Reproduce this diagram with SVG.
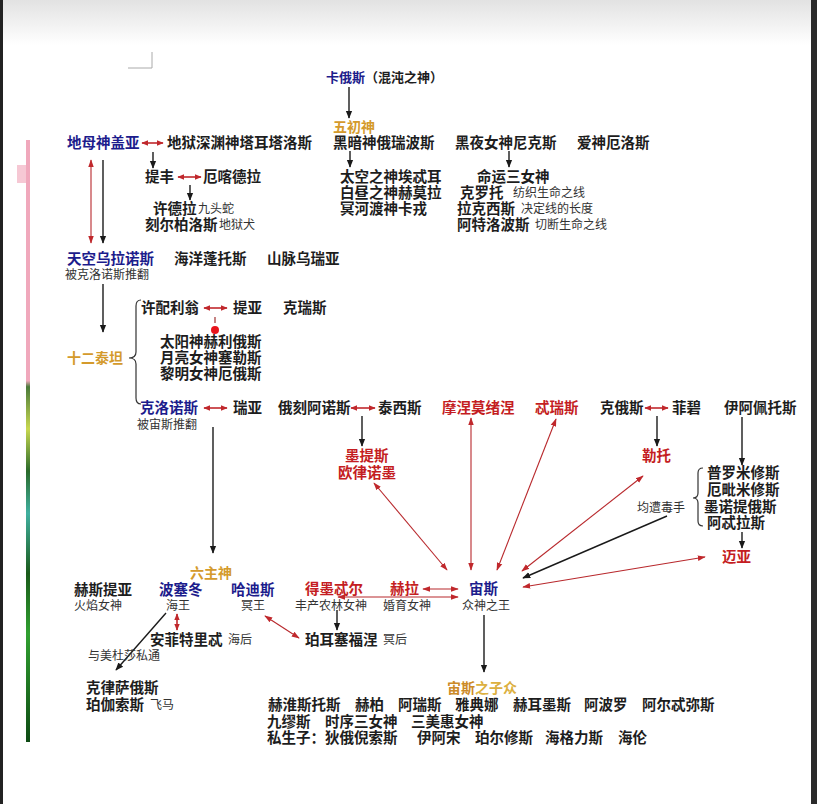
<svg xmlns="http://www.w3.org/2000/svg" width="817" height="804" viewBox="0 0 817 804">
<defs>
<style>
.t{font-family:"Noto Sans CJK SC","Noto Sans CJK JP",sans-serif;font-size:14.5px;font-weight:700;fill:#1d1d1d}
.b{fill:#1c1c8c}
.r{fill:#c41d22}
.g{fill:#d49a2c}
.s{font-family:"Noto Sans CJK SC","Noto Sans CJK JP",sans-serif;font-size:12px;font-weight:400;fill:#333}
.k{stroke:#1a1a1a;stroke-width:1.4;fill:none}
.kr{stroke:#1a1a1a;stroke-width:1.4;fill:none;marker-end:url(#ak)}
.rr{stroke:#b8282c;stroke-width:1.1;fill:none;marker-start:url(#ar);marker-end:url(#ar)}
.rb{stroke:#c0282c;stroke-width:1.6;fill:none;marker-start:url(#ar2);marker-end:url(#ar2)}
.br{stroke:#333;stroke-width:1.2;fill:none}
</style>
<marker id="ak" viewBox="0 0 10 10" refX="9" refY="5" markerWidth="8" markerHeight="8" markerUnits="userSpaceOnUse" orient="auto-start-reverse"><path d="M0,1 L10,5 L0,9 z" fill="#1a1a1a"/></marker>
<marker id="ar" viewBox="0 0 10 10" refX="9" refY="5" markerWidth="8" markerHeight="8" markerUnits="userSpaceOnUse" orient="auto-start-reverse"><path d="M0,1.5 L10,5 L0,8.5 z" fill="#c0282c"/></marker>
<marker id="ar2" viewBox="0 0 10 10" refX="9" refY="5" markerWidth="7" markerHeight="7" markerUnits="userSpaceOnUse" orient="auto-start-reverse"><path d="M0,1 L10,5 L0,9 z" fill="#c0282c"/></marker>
<linearGradient id="top" x1="0" y1="0" x2="0" y2="1"><stop offset="0" stop-color="#e2e2e2"/><stop offset="1" stop-color="#ffffff"/></linearGradient>
<linearGradient id="rule" x1="0" y1="0" x2="1" y2="0"><stop offset="0" stop-color="#eeeeee"/><stop offset="0.5" stop-color="#e4e0b0"/><stop offset="1" stop-color="#f2f0a0"/></linearGradient>
<linearGradient id="strip" x1="0" y1="0" x2="0" y2="1"><stop offset="0" stop-color="#f0a8bc"/><stop offset="0.4" stop-color="#f0a8bc"/><stop offset="0.41" stop-color="#4a7a3a"/><stop offset="0.48" stop-color="#c8d850"/><stop offset="0.55" stop-color="#2a6a2a"/><stop offset="0.62" stop-color="#40b0a0"/><stop offset="0.72" stop-color="#1a5a1a"/><stop offset="0.82" stop-color="#30a030"/><stop offset="1" stop-color="#0e4a14"/></linearGradient>
</defs>
<rect width="817" height="804" fill="#ffffff"/>
<rect width="817" height="45" fill="url(#top)"/>
<rect x="0" y="0" width="3" height="804" fill="#222"/>
<rect x="811" y="0" width="6" height="804" fill="#2a2a2a"/>
<rect x="26" y="140" width="4" height="602" fill="url(#strip)"/>
<rect x="17" y="165" width="9" height="18" fill="#f6c8d4"/>
<line x1="250" y1="50" x2="742" y2="50" stroke="url(#rule)" stroke-width="1.5"/>
<path d="M152,52 L152,68 L128,68" stroke="#aaa" stroke-width="1" fill="none"/>

<g id="connectors">
<line class="kr" x1="349" y1="87" x2="349" y2="118"/>
<line class="rb" x1="142" y1="143" x2="163" y2="143"/>
<line class="kr" x1="153" y1="152" x2="153" y2="168"/>
<line class="rb" x1="178" y1="177" x2="201" y2="177"/>
<line class="kr" x1="190" y1="185" x2="190" y2="200"/>
<line class="kr" x1="350" y1="151" x2="350" y2="167"/>
<line class="kr" x1="509" y1="151" x2="509" y2="167"/>
<line class="rr" x1="91" y1="160" x2="91" y2="243"/>
<line class="kr" x1="103" y1="160" x2="103" y2="243"/>
<line class="kr" x1="103" y1="284" x2="103" y2="332"/>
<path class="br" d="M141,300 Q136,300 136,306 L136,352 Q136,358 129,358 Q136,358 136,364 L136,398 Q136,404 141,404"/>
<line class="rb" x1="204" y1="308" x2="227" y2="308"/>
<line x1="215" y1="317" x2="215" y2="323" stroke="#a03030" stroke-width="1.2"/>
<circle cx="215" cy="330" r="4" fill="#e8141c"/>
<line class="rb" x1="204" y1="408" x2="227" y2="408"/>
<line class="rb" x1="351" y1="408" x2="375" y2="408"/>
<line class="kr" x1="362" y1="416" x2="362" y2="446"/>
<line class="rb" x1="645" y1="408" x2="668" y2="408"/>
<line class="kr" x1="657" y1="416" x2="657" y2="446"/>
<line class="kr" x1="742" y1="417" x2="742" y2="465"/>
<path class="br" d="M703,468 Q698,468 698,473 L698,493 Q698,498 693,498 Q698,498 698,503 L698,521 Q698,526 703,526"/>
<line class="kr" x1="742" y1="532" x2="742" y2="548"/>
<line class="kr" x1="213" y1="427" x2="213" y2="553"/>
<line class="rr" x1="374" y1="483" x2="447" y2="570"/>
<line class="rr" x1="471" y1="418" x2="471" y2="570"/>
<line class="rr" x1="556" y1="419" x2="497" y2="570"/>
<line class="rr" x1="643" y1="476" x2="522" y2="571"/>
<line class="kr" x1="667" y1="516" x2="523" y2="578"/>
<line class="rr" x1="705" y1="557" x2="523" y2="587"/>
<line class="rr" x1="423" y1="589" x2="458" y2="589"/>
<line class="rr" x1="338" y1="597" x2="458" y2="597"/>
<line class="kr" x1="337" y1="610" x2="337" y2="630"/>
<line class="rr" x1="265" y1="616" x2="299" y2="638"/>
<line class="rb" x1="177" y1="614" x2="177" y2="630"/>
<line class="kr" x1="166" y1="613" x2="116" y2="670"/>
<line class="kr" x1="484" y1="615" x2="484" y2="672"/>
</g>

<g id="chaos"><text class="t" x="326" y="82" style="font-size:13px"><tspan class="b">卡俄斯</tspan><tspan>（混沌之神）</tspan></text></g>
<g id="five"><text class="t g" x="333" y="132" style="font-size:14px">五初神</text></g>
<g id="erebus"><text class="t" x="333" y="148">黑暗神俄瑞波斯</text></g>
<g id="nyx"><text class="t" x="455" y="148">黑夜女神尼克斯</text></g>
<g id="eros"><text class="t" x="577" y="148">爱神厄洛斯</text></g>
<g id="erebus-children">
<text class="t" x="340" y="182">太空之神埃忒耳</text>
<text class="t" x="340" y="198">白昼之神赫莫拉</text>
<text class="t" x="340" y="214">冥河渡神卡戎</text>
</g>
<g id="moirai">
<text class="t" x="477" y="182">命运三女神</text>
<text class="t" x="460" y="198">克罗托</text><text class="s" x="513" y="197">纺织生命之线</text>
<text class="t" x="457" y="214">拉克西斯</text><text class="s" x="521" y="213">决定线的长度</text>
<text class="t" x="457" y="230">阿特洛波斯</text><text class="s" x="535" y="229">切断生命之线</text>
</g>
<g id="gaia"><text class="t b" x="67" y="148">地母神盖亚</text></g>
<g id="tartarus"><text class="t" x="167" y="148">地狱深渊神塔耳塔洛斯</text></g>
<g id="typhon"><text class="t" x="145" y="182">提丰</text></g>
<g id="echidna"><text class="t" x="203" y="182">厄喀德拉</text></g>
<g id="monsters">
<text class="t" x="153" y="214">许德拉</text><text class="s" x="198" y="213">九头蛇</text>
<text class="t" x="145" y="230">刻尔柏洛斯</text><text class="s" x="219" y="229">地狱犬</text>
</g>
<g id="uranus"><text class="t b" x="67" y="264">天空乌拉诺斯</text><text class="s" x="65" y="279">被克洛诺斯推翻</text></g>
<g id="pontus"><text class="t" x="174" y="264">海洋蓬托斯</text></g>
<g id="ourea"><text class="t" x="267" y="264">山脉乌瑞亚</text></g>
<g id="titans"><text class="t g" x="67" y="363" style="font-size:14px">十二泰坦</text></g>
<g id="hyperion"><text class="t" x="141" y="313">许配利翁</text></g>
<g id="theia"><text class="t" x="233" y="313">提亚</text></g>
<g id="crius"><text class="t" x="283" y="313">克瑞斯</text></g>
<g id="hyperion-children">
<text class="t" x="160" y="347">太阳神赫利俄斯</text>
<text class="t" x="160" y="363">月亮女神塞勒斯</text>
<text class="t" x="160" y="379">黎明女神厄俄斯</text>
</g>
<g id="cronus"><text class="t b" x="140" y="413">克洛诺斯</text><text class="s" x="137" y="429">被宙斯推翻</text></g>
<g id="rhea"><text class="t" x="233" y="413">瑞亚</text></g>
<g id="oceanus"><text class="t" x="278" y="413">俄刻阿诺斯</text></g>
<g id="tethys"><text class="t" x="378" y="413">泰西斯</text></g>
<g id="mnemosyne"><text class="t r" x="442" y="413">摩涅莫绪涅</text></g>
<g id="themis"><text class="t r" x="535" y="413">忒瑞斯</text></g>
<g id="coeus"><text class="t" x="600" y="413">克俄斯</text></g>
<g id="phoebe"><text class="t" x="672" y="413">菲碧</text></g>
<g id="iapetus"><text class="t" x="724" y="413">伊阿佩托斯</text></g>
<g id="metis"><text class="t r" x="345" y="461">墨提斯</text><text class="t r" x="338" y="478">欧律诺墨</text></g>
<g id="leto"><text class="t r" x="642" y="461">勒托</text></g>
<g id="iapetus-children">
<text class="t" x="707" y="478">普罗米修斯</text>
<text class="t" x="707" y="495">厄毗米修斯</text>
<text class="t" x="704" y="512">墨诺提俄斯</text>
<text class="t" x="707" y="528">阿忒拉斯</text>
</g>
<g id="poisoned"><text class="s" x="637" y="512">均遭毒手</text></g>
<g id="maia"><text class="t r" x="722" y="562">迈亚</text></g>
<g id="six"><text class="t g" x="190" y="578" style="font-size:14px">六主神</text></g>
<g id="hestia"><text class="t" x="74" y="595">赫斯提亚</text><text class="s" x="74" y="610">火焰女神</text></g>
<g id="poseidon"><text class="t b" x="159" y="595">波塞冬</text><text class="s" x="166" y="610">海王</text></g>
<g id="hades"><text class="t b" x="231" y="595">哈迪斯</text><text class="s" x="241" y="610">冥王</text></g>
<g id="demeter"><text class="t r" x="305" y="594">得墨忒尔</text><text class="s" x="295" y="610">丰产农林女神</text></g>
<g id="hera"><text class="t r" x="390" y="594">赫拉</text><text class="s" x="383" y="610">婚育女神</text></g>
<g id="zeus"><text class="t b" x="469" y="594">宙斯</text><text class="s" x="462" y="610">众神之王</text></g>
<g id="amphitrite"><text class="t" x="150" y="645">安菲特里忒</text><text class="s" x="228" y="644">海后</text></g>
<g id="persephone"><text class="t" x="305" y="645">珀耳塞福涅</text><text class="s" x="383" y="644">冥后</text></g>
<g id="medusa"><text class="s" x="88" y="660">与美杜莎私通</text></g>
<g id="chrysaor"><text class="t" x="86" y="693">克律萨俄斯</text><text class="t" x="86" y="710">珀伽索斯</text><text class="s" x="150" y="709">飞马</text></g>
<g id="zeus-children">
<text class="t" x="447" y="693" style="font-size:14px"><tspan fill="#cc8a28">宙斯</tspan><tspan fill="#dcb040">之子众</tspan></text>
<text class="t" x="268" y="710">赫淮斯托斯</text>
<text class="t" x="355" y="710">赫柏</text>
<text class="t" x="398" y="710">阿瑞斯</text>
<text class="t" x="455" y="710">雅典娜</text>
<text class="t" x="513" y="710">赫耳墨斯</text>
<text class="t" x="584" y="710">阿波罗</text>
<text class="t" x="642" y="710">阿尔忒弥斯</text>
<text class="t" x="267" y="727">九缪斯</text>
<text class="t" x="325" y="727">时序三女神</text>
<text class="t" x="411" y="727">三美惠女神</text>
<text class="t" x="267" y="743">私生子：狄俄倪索斯</text>
<text class="t" x="417" y="743">伊阿宋</text>
<text class="t" x="475" y="743">珀尔修斯</text>
<text class="t" x="545" y="743">海格力斯</text>
<text class="t" x="618" y="743">海伦</text>
</g>
</svg>
